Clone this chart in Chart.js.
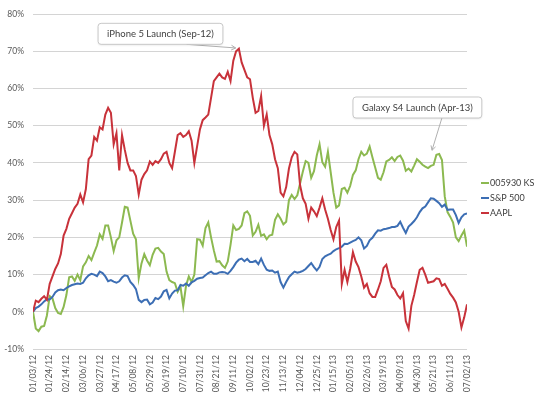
<!DOCTYPE html>
<html>
<head>
<meta charset="utf-8">
<script src="https://cdn.jsdelivr.net/npm/chart.js@4"></script>
<style>
  html, body { margin: 0; padding: 0; background: #fff; }
  #wrap { width: 543px; height: 396px; }
</style>
</head>
<body>
<div id="wrap"><canvas id="line-chart" width="543" height="396"></canvas></div>
<script>
// x-axis labels, one every 21 days (3 weeks)
const tickLabels = ['01/03/12', '01/24/12', '02/14/12', '03/06/12', '03/27/12', '04/17/12', '05/08/12',
  '05/29/12', '06/19/12', '07/10/12', '07/31/12', '08/21/12', '09/11/12', '10/02/12', '10/23/12',
  '11/13/12', '12/04/12', '12/25/12', '01/15/13', '02/05/13', '02/26/13', '03/19/13', '04/09/13',
  '04/30/13', '05/21/13', '06/11/13', '07/02/13'];

const samsung = [0, -4.5, -5.2, -4, -3.8, -1, 4.2, 3.6, 1, -0.3,
  -0.6, 1.3, 4.5, 9.3, 9.5, 8.3, 10, 8.5, 12.2, 13.3,
  15, 13.9, 15.9, 17.8, 20.8, 19.6, 23.2, 23.2, 20, 16.3,
  19.2, 20, 24, 28.2, 28, 24.5, 21, 19.5, 9, 13,
  15.5, 13.8, 12.5, 15.3, 17, 17.2, 16.2, 15.5, 10.8, 8.5,
  8, 7.7, 5.4, 6.8, 1.5, 7, 9.5, 8, 10, 19.5,
  19.4, 17.8, 22.5, 24, 20, 16.5, 13.5, 13.6, 12.5, 11.8,
  13.5, 18, 23.2, 22, 22.3, 23.2, 26.5, 27, 25.8, 20.5,
  21.5, 23.4, 20.4, 20.8, 19.5, 20.5, 20.7, 24.7, 26.2, 25,
  23.5, 24.2, 30, 31.4, 30.3, 31.3, 34.5, 37.7, 40.5, 40,
  36, 37.8, 42, 45, 40.2, 39, 43, 37.5, 32, 28,
  28.6, 33, 33.3, 32, 33.8, 36.8, 38, 41, 43, 42,
  42.5, 44.4, 41.5, 38.8, 36, 35.5, 37.5, 40.4, 40.8, 41.5,
  40.5, 41.6, 42, 40.6, 37.9, 38.5, 37.7, 39.3, 41, 40.3,
  39.5, 39, 38.6, 39.2, 39.5, 42.2, 42.4, 40.8, 31, 26.8,
  25.5, 24, 20, 19, 20.5, 21.8, 17.5];

const sp500 = [0, 1, 1.4, 2, 2.8, 3.4, 3.3, 4, 5.2, 5.8,
  6, 5.8, 6.4, 6.8, 7.2, 7.4, 7.6, 7.5, 7.8, 9,
  9.8, 10.2, 10, 9.6, 10.8, 10.4, 9.5, 8.2, 8.5, 8.1,
  7.8, 8.2, 9.2, 9.8, 9.6, 8, 7.2, 6.1, 3.2, 2.6,
  3.2, 3.3, 2, 2.5, 3.7, 3.4, 4.1, 5.5, 5.9, 3.6,
  4.9, 5.7, 5.8, 7.2, 7, 7.6, 7, 7.9, 8.3, 8.9,
  9.1, 9.2, 9.8, 10.4, 10.8, 10.2, 10.2, 10.6, 10.7, 10.6,
  10.2, 11, 12, 13.2, 14, 14.3, 13.6, 14.2, 13.4, 13.4,
  13.7, 12.8, 14.3, 12.6, 11.3, 11, 11.1, 10.5, 10.8, 8,
  6.5, 8, 9.3, 10.1, 10.8, 10.5, 10.7, 11, 11.5, 12.3,
  13.1, 12, 11.1, 12.1, 14.2, 14.9, 15.3, 15.6, 16.3, 16.8,
  17.1, 17.5, 18.3, 18.2, 18.6, 19, 19.3, 20, 19.2, 17,
  17.7, 19.2, 19.9, 21, 21.9, 21.8, 22.2, 22.3, 22.5, 22.8,
  22.8, 23.1, 24.2, 22.6, 21.2, 22.9, 23.6, 24.4, 25.4, 26.8,
  27.8, 28.3, 29.4, 30.5, 30.4, 29.8, 29.2, 28.2, 28.8, 27.4,
  27.5, 27.5, 26, 23.9, 25.4, 26.2, 26.4];

const aapl = [0, 3, 2.6, 3.5, 4.2, 3.2, 7.5, 9.5, 11.5, 13,
  15.5, 20.5, 22.3, 25, 26.5, 28, 29, 31.5, 29.4, 33,
  41, 42, 47, 46, 49.6, 49, 53, 54.8, 53.5, 45,
  48, 38, 47.5, 43.5, 40, 38, 38, 36.5, 31.5, 35.5,
  37, 38, 40.4, 39.5, 40.5, 40, 41, 42.5, 43, 40,
  38.6, 43, 47.5, 48, 47, 47.5, 48.5, 46, 40, 44.5,
  49, 51.5, 52.2, 53, 57.5, 62, 63, 64, 63, 62.6,
  64.5, 62, 67.5, 70, 70.7, 67, 65, 63, 62.5, 57.5,
  53.5, 54, 58, 50, 53, 47.5, 45, 41, 38.6, 32,
  31, 33.5, 38.5, 41.5, 43, 42.3, 34, 30.5, 29, 25,
  28, 27, 25.7, 28, 30.5, 27.5, 25, 22, 19.5, 22.8,
  24.5, 7.5, 11.3, 8, 11.5, 16, 13.5, 12, 9.5, 6.5,
  7.5, 5, 4, 4, 6, 8.2, 11.8, 12.6, 9.5, 6.7,
  6, 4.5, 3.6, 5, -2.5, -4.5, 1.6, 4.5, 8, 11.3,
  11.8, 10, 7.8, 8, 8.2, 9, 8.8, 7, 7.5, 6.2,
  4.8, 3.8, 2.5, 0, -4.2, -1.5, 2];

const seriesNames = ['005930 KS', 'S&P 500', 'AAPL'];
const seriesColors = ['#8cb950', '#3c6eb4', '#c8323a'];

// callouts: text, box centre and arrow target given in chart units (day, %)
const callouts = [
  { text: 'iPhone 5 Launch (Sep-12)', box: [160.4, 74.7], start: [26, 10.5], target: [255, 70.9] },
  { text: 'Galaxy S4 Launch (Apr-13)', box: [483.6, 54.9], start: [24.5, 10.5], target: [502, 43.4] }
];

const FONT = 'Lato, "Liberation Sans", sans-serif';
const step = 3.5;
const toPoints = arr => arr.map((v, i) => ({ x: i * step, y: v }));

const calloutPlugin = {
  id: 'callouts',
  afterDatasetsDraw(chart) {
    const { ctx, scales: { x, y } } = chart;
    ctx.save();
    ctx.font = '9.5px ' + FONT;
    callouts.forEach(c => {
      const cx = x.getPixelForValue(c.box[0]);
      const cy = y.getPixelForValue(c.box[1]);
      const w = ctx.measureText(c.text).width + 18;
      const h = 21;
      // arrow
      const sx = cx + c.start[0], sy = cy + c.start[1];
      const tx = x.getPixelForValue(c.target[0]), ty = y.getPixelForValue(c.target[1]);
      ctx.strokeStyle = '#b0b0b0';
      ctx.lineWidth = 1;
      ctx.beginPath();
      ctx.moveTo(sx, sy);
      ctx.lineTo(tx, ty);
      ctx.stroke();
      const ang = Math.atan2(ty - sy, tx - sx);
      ctx.beginPath();
      ctx.moveTo(tx - 5 * Math.cos(ang - 0.5), ty - 5 * Math.sin(ang - 0.5));
      ctx.lineTo(tx, ty);
      ctx.lineTo(tx - 5 * Math.cos(ang + 0.5), ty - 5 * Math.sin(ang + 0.5));
      ctx.stroke();
      // box
      ctx.shadowColor = 'rgba(0,0,0,0.12)';
      ctx.shadowBlur = 2;
      ctx.shadowOffsetY = 1;
      ctx.fillStyle = '#fff';
      ctx.beginPath();
      ctx.roundRect(cx - w / 2, cy - h / 2, w, h, 3);
      ctx.fill();
      ctx.shadowColor = 'transparent';
      ctx.strokeStyle = '#c8c8c8';
      ctx.stroke();
      ctx.fillStyle = '#404040';
      ctx.textAlign = 'center';
      ctx.textBaseline = 'middle';
      ctx.fillText(c.text, cx, cy + 0.5);
    });
    ctx.restore();
  }
};

const legendPlugin = {
  id: 'sideLegend',
  afterDraw(chart) {
    const ctx = chart.ctx;
    ctx.save();
    ctx.font = '9px ' + FONT;
    ctx.textBaseline = 'middle';
    chart.data.datasets.forEach((ds, i) => {
      const yy = 183 + i * 15;
      ctx.strokeStyle = ds.borderColor;
      ctx.lineWidth = 2;
      ctx.beginPath();
      ctx.moveTo(481, yy);
      ctx.lineTo(489, yy);
      ctx.stroke();
      ctx.fillStyle = '#404040';
      ctx.fillText(ds.label, 490, yy);
    });
    ctx.restore();
  }
};

new Chart(document.getElementById('line-chart'), {
  type: 'line',
  data: {
    datasets: [samsung, sp500, aapl].map((arr, i) => ({
      label: seriesNames[i],
      data: toPoints(arr),
      borderColor: seriesColors[i],
      backgroundColor: seriesColors[i],
      borderWidth: 2,
      pointRadius: 0,
      tension: 0,
      order: 2 - i
    }))
  },
  options: {
    responsive: false,
    animation: false,
    layout: { padding: { top: 8, right: 76, left: 0, bottom: 0 } },
    plugins: {
      legend: { display: false },
      tooltip: { enabled: false }
    },
    scales: {
      x: {
        type: 'linear',
        min: 0,
        max: 546,
        grid: { display: false, drawTicks: false },
        border: { display: false },
        afterBuildTicks: s => { s.ticks = tickLabels.map((t, k) => ({ value: k * 21 })); },
        afterFit: s => { s.height = 47; },
        ticks: {
          autoSkip: false,
          minRotation: 90,
          maxRotation: 90,
          padding: 6,
          color: '#595959',
          font: { family: FONT, size: 8.5 },
          callback: (v, i) => tickLabels[i]
        }
      },
      y: {
        min: -10,
        max: 80,
        afterFit: s => { s.width = 33; },
        grid: { color: '#d4d4d4', drawTicks: false },
        border: { display: false },
        ticks: {
          stepSize: 10,
          padding: 9,
          color: '#595959',
          font: { family: FONT, size: 8.5 },
          callback: v => v + '%'
        }
      }
    }
  },
  plugins: [calloutPlugin, legendPlugin]
});
</script>
</body>
</html>
